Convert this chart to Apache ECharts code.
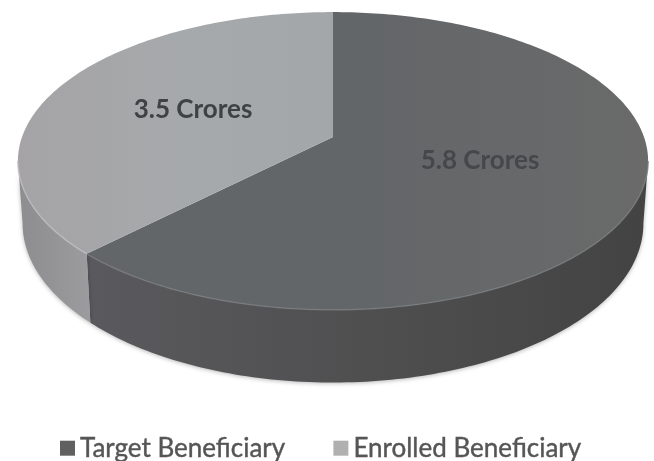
<!DOCTYPE html>
<html>
<head>
<meta charset="utf-8">
<style>html,body{margin:0;padding:0;background:#fff}#chart{width:654px;height:461px}</style>
<script src="https://cdn.jsdelivr.net/npm/echarts@6/dist/echarts.min.js"></script>
</head>
<body>
<div id="chart"></div>
<script>
// Beneficiary counts, in crores
const categories = ['Target Beneficiary', 'Enrolled Beneficiary'];
const crores = [5.8, 3.5];
const sliceLabels = ['5.8 Crores', '3.5 Crores'];

// Colours per slice: top face, wall gradient, rim highlight
const topColors = [['#636668', '#636668', '#6a6a6a'], ['#a5a3a5', '#a6a9ab', '#a4a7a9']];
const wallColors = [['#5a5a5e', '#4f4f50', '#434343'], ['#8d8d8f', '#949496', '#9c9c9e']];
const rimColors = ['#777a7c', '#bcbec0'];
const legendColors = ['#606060', '#b0b0b0'];

// Tilted disc projection
const disc = { cx: 333, cy: 137, r: 311, k: 145, p: 0.161, depth: 61, taper: 0.985 };
const STEP = Math.PI / 180;
const labelAnchors = [[480, 161], [193, 110]];

function topPoint(t) {
  const s = 1 / (1 + disc.p * Math.cos(t));
  return [disc.cx + disc.r * Math.sin(t) * s, disc.cy - disc.k * Math.cos(t) * s];
}
function bottomPoint(t) {
  const s = 1 / (1 + disc.p * Math.cos(t));
  return [disc.cx + disc.r * disc.taper * Math.sin(t) * s,
          disc.cy - disc.k * Math.cos(t) * s + disc.depth * s];
}
function arc(fn, a, b) {
  const pts = [];
  const n = Math.max(2, Math.ceil(Math.abs(b - a) / STEP));
  for (let i = 0; i <= n; i++) pts.push(fn(a + (b - a) * i / n));
  return pts;
}
function gradient(stops) {
  return new echarts.graphic.LinearGradient(0, 0, 1, 0, stops.map((c, i) => ({
    offset: i / (stops.length - 1), color: c
  })));
}

const total = crores.reduce((a, b) => a + b, 0);
const wallFrom = Math.acos(-disc.p);
const wallTo = 2 * Math.PI - wallFrom;

function renderSlice(index) {
  return function (params, api) {
    const before = crores.slice(0, index).reduce((a, b) => a + b, 0);
    const start = before / total * 2 * Math.PI;
    const end = start + api.value(0) / total * 2 * Math.PI;
    const children = [];

    // Outer wall, only the part facing the viewer
    const wStart = Math.max(start, wallFrom);
    const wEnd = Math.min(end, wallTo);
    if (wEnd > wStart) {
      const wall = arc(topPoint, wStart, wEnd).concat(arc(bottomPoint, wEnd, wStart));
      children.push({
        type: 'polygon',
        shape: { points: wall },
        style: { fill: gradient(wallColors[index]),
                 shadowColor: 'rgba(0,0,0,0.28)', shadowBlur: 4, shadowOffsetY: 1 }
      });
    }

    // Top face
    const face = [[disc.cx, disc.cy]].concat(arc(topPoint, start, end));
    children.push({
      type: 'polygon',
      shape: { points: face },
      style: { fill: gradient(topColors[index]) }
    });

    // Lit edge where the face meets the wall
    if (wEnd > wStart) {
      children.push({
        type: 'polyline',
        shape: { points: arc(topPoint, wStart, wEnd) },
        style: { fill: null, stroke: rimColors[index], lineWidth: 1.5, opacity: 0.8 }
      });
    }

    children.push({
      type: 'text',
      x: labelAnchors[index][0],
      y: labelAnchors[index][1],
      style: {
        text: sliceLabels[index],
        font: 'bold 26px Lato, "Open Sans", sans-serif',
        fill: index === 0 ? '#45474b' : '#3f4245',
        align: 'center',
        verticalAlign: 'middle'
      }
    });
    return { type: 'group', children };
  };
}

const chart = echarts.init(document.getElementById('chart'), null, { renderer: 'canvas' });
chart.setOption({
  animation: false,
  backgroundColor: '#ffffff',
  legend: {
    data: categories.map((name, i) => ({ name, itemStyle: { color: legendColors[i] } })),
    left: 55,
    top: 430,
    icon: 'rect',
    itemWidth: 15,
    itemHeight: 15,
    itemGap: 48,
    textStyle: {
      fontFamily: 'Lato, "Open Sans", sans-serif',
      fontSize: 26,
      color: '#555555',
      textBorderColor: '#555555',
      textBorderWidth: 0.4
    }
  },
  series: categories.map((name, i) => ({
    type: 'custom',
    name,
    coordinateSystem: 'none',
    silent: true,
    itemStyle: { color: legendColors[i] },
    data: [[crores[i]]],
    renderItem: renderSlice(i)
  }))
});
</script>
</body>
</html>
